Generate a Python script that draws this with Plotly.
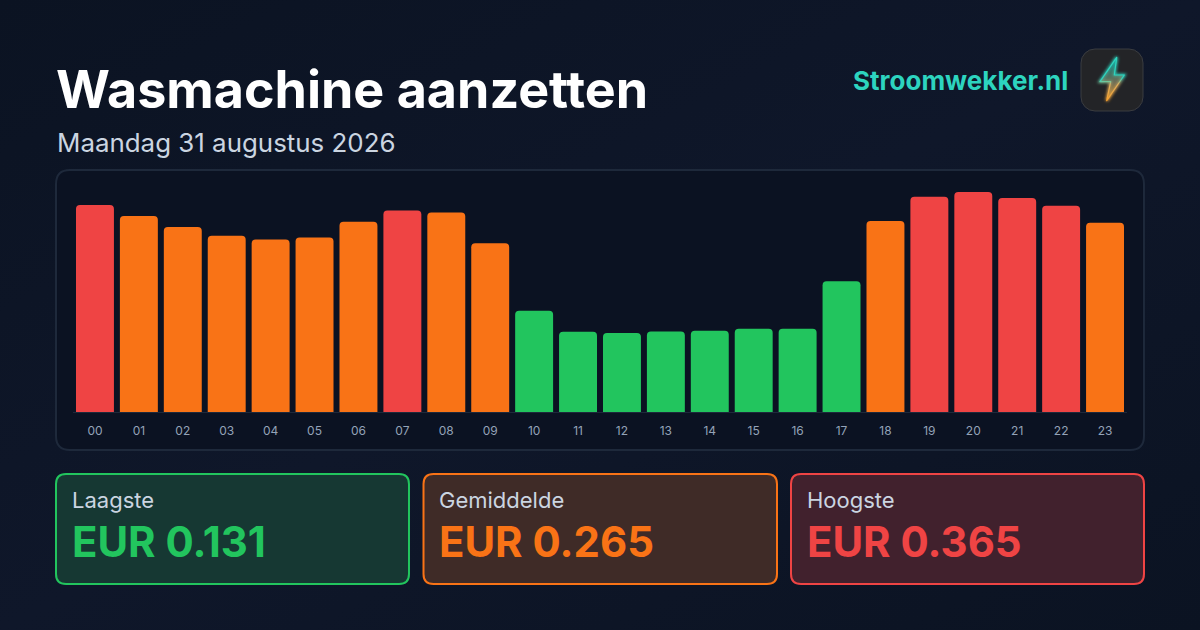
import base64
import plotly.graph_objects as go

W, H = 1200, 630

hours = [f"{h:02d}" for h in range(24)]
prices = [0.3435, 0.325, 0.307, 0.2925, 0.286, 0.2895, 0.3155, 0.3345, 0.331, 0.280,
          0.168, 0.133, 0.131, 0.1335, 0.135, 0.138, 0.138, 0.217,
          0.317, 0.357, 0.365, 0.355, 0.342, 0.314]
levels = ["h", "m", "m", "m", "m", "m", "m", "h", "m", "m",
          "l", "l", "l", "l", "l", "l", "l", "l",
          "m", "h", "h", "h", "h", "m"]
level_colors = {"l": "#22c55e", "m": "#f97316", "h": "#ef4444"}

title = "Wasmachine aanzetten"
subtitle = "Maandag 31 augustus 2026"
brand = "Stroomwekker.nl"
card_labels = ["Laagste", "Gemiddelde", "Hoogste"]
card_values = ["EUR 0.131", "EUR 0.265", "EUR 0.365"]
card_colors = ["#22c55e", "#f97316", "#ef4444"]
card_fills = ["#163833", "#3f2b27", "#41212d"]
card_x = [(56, 409), (423.5, 777), (791, 1144)]
FONT = "Inter"


def px(x):
    return x / W


def py(y):
    return 1 - y / H


def rrect(x0, y0, x1, y1, r):
    """Rounded rectangle given in pixels, written in paper fractions."""
    def p(x, y):
        return f"{px(x):.5f},{py(y):.5f}"
    return (f"M{p(x0, y0 + r)} Q{p(x0, y0)} {p(x0 + r, y0)} L{p(x1 - r, y0)} Q{p(x1, y0)} {p(x1, y0 + r)} "
            f"L{p(x1, y1 - r)} Q{p(x1, y1)} {p(x1 - r, y1)} L{p(x0 + r, y1)} Q{p(x0, y1)} {p(x0, y1 - r)} Z")


def data_uri(svg):
    return "data:image/svg+xml;base64," + base64.b64encode(svg.encode()).decode()


bg_svg = f"""<svg xmlns='http://www.w3.org/2000/svg' width='{W}' height='{H}' viewBox='0 0 {W} {H}'>
<defs><linearGradient id='g' x1='0' y1='0' x2='1' y2='1'>
<stop offset='0' stop-color='#0b1322'/><stop offset='0.5' stop-color='#0f172a'/><stop offset='1' stop-color='#0b1322'/>
</linearGradient></defs><rect width='{W}' height='{H}' fill='url(#g)'/></svg>"""

bolt = "M36.7,9.3 L20,33.7 L30.7,33.7 L26.7,52.7 L44.3,27 L34.3,27 Z"
logo_svg = f"""<svg xmlns='http://www.w3.org/2000/svg' width='64' height='64' viewBox='0 0 64 64'>
<defs><linearGradient id='b' gradientUnits='userSpaceOnUse' x1='30' y1='9' x2='34' y2='53'>
<stop offset='0' stop-color='#2dd4bf'/><stop offset='0.5' stop-color='#2dd4bf'/><stop offset='0.62' stop-color='#e0b060'/><stop offset='1' stop-color='#f59e2b'/>
</linearGradient>
<linearGradient id='f' gradientUnits='userSpaceOnUse' x1='30' y1='18' x2='34' y2='50'>
<stop offset='0' stop-color='#1f9a90'/><stop offset='0.5' stop-color='#8a8a68'/><stop offset='1' stop-color='#d9922c'/>
</linearGradient>
<filter id='gl' filterUnits='userSpaceOnUse' x='0' y='0' width='64' height='64'><feGaussianBlur stdDeviation='1.8'/></filter></defs>
<rect x='1' y='1' width='62' height='62' rx='14' fill='#232427' stroke='#3a3c40' stroke-width='1'/>
<path d='{bolt}' fill='none' stroke='url(#b)' stroke-width='2.6' filter='url(#gl)'/>
<path d='{bolt}' fill='url(#f)' fill-opacity='0.7' stroke='url(#b)' stroke-width='1.2' stroke-linejoin='round'/>
</svg>"""

fig = go.Figure(go.Bar(
    x=hours, y=prices,
    marker=dict(color=[level_colors[l] for l in levels], line_width=0, cornerradius=4),
    hoverinfo="skip",
))

shapes = [dict(type="path", xref="paper", yref="paper", layer="below",
               path=rrect(56, 170, 1144, 450, 14),
               fillcolor="#0b1222", line=dict(color="#1e293b", width=2))]
for (x0, x1), col, fill in zip(card_x, card_colors, card_fills):
    shapes.append(dict(type="path", xref="paper", yref="paper", layer="below",
                       path=rrect(x0, 474, x1, 584, 10),
                       fillcolor=fill, line=dict(color=col, width=2)))


def ann(x, y, text, size, color, weight=400, xanchor="left"):
    return dict(xref="paper", yref="paper", x=px(x), y=py(y), text=text, showarrow=False,
                xanchor=xanchor, yanchor="middle",
                font=dict(family=FONT, size=size, color=color, weight=weight))


annotations = [
    ann(54, 90, title, 52, "#ffffff", 700),
    ann(54.5, 142.5, subtitle, 25.9, "#cbd5e1", 400),
    ann(1070, 81, brand, 26, "#2dd4bf", 700, "right"),
]
for (x0, _), lab, val, col in zip(card_x, card_labels, card_values, card_colors):
    annotations.append(ann(x0 + 13.5, 500.5, lab, 22, "#cbd5e1", 400))
    annotations.append(ann(x0 + 13.5, 541, val, 41.9, col, 700))

fig.update_layout(
    width=W, height=H, autosize=False,
    margin=dict(l=0, r=0, t=0, b=0),
    paper_bgcolor="#0f172a", plot_bgcolor="rgba(0,0,0,0)",
    showlegend=False, bargap=0.136,
    font=dict(family=FONT),
    xaxis=dict(domain=[px(73), px(1127)], type="category", showgrid=False, zeroline=False,
               showline=True, linecolor="#1e293b", linewidth=1,
               ticks="outside", ticklen=8, tickcolor="rgba(0,0,0,0)",
               tickfont=dict(family=FONT, size=12, color="#94a3b8")),
    yaxis=dict(domain=[py(412), py(192)], range=[0, 0.365], visible=False),
    shapes=shapes,
    annotations=annotations,
    images=[
        dict(source=data_uri(bg_svg), xref="paper", yref="paper", x=0, y=1, sizex=1, sizey=1,
             sizing="stretch", xanchor="left", yanchor="top", layer="below"),
        dict(source=data_uri(logo_svg), xref="paper", yref="paper", x=px(1080), y=py(48),
             sizex=64 / W, sizey=64 / H, sizing="stretch", xanchor="left", yanchor="top", layer="above"),
    ],
)

fig.write_html("out.html", config=dict(displayModeBar=False),
               post_script="document.body.style.margin='0';document.body.style.background='#0f172a';")
